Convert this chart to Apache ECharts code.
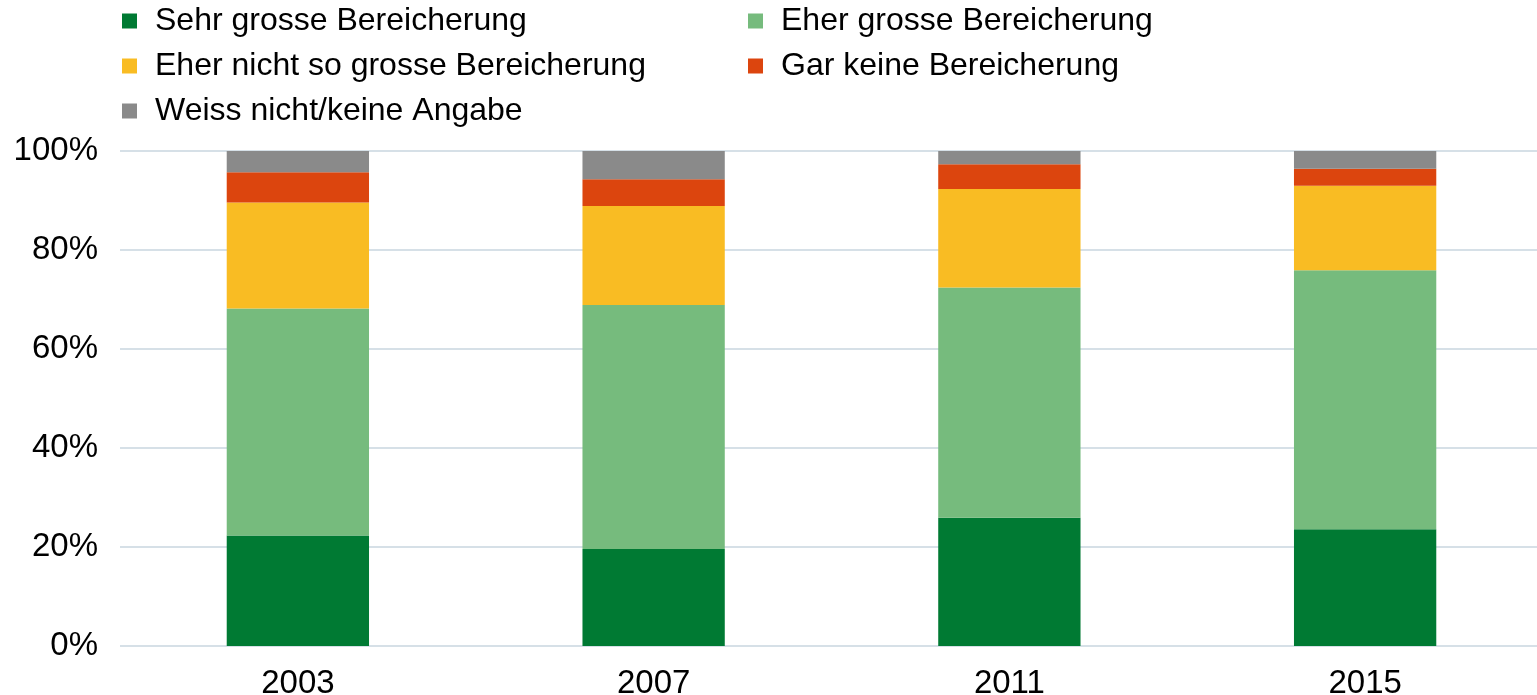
<!DOCTYPE html>
<html>
<head>
<meta charset="utf-8">
<script src="https://cdn.jsdelivr.net/npm/echarts@6/dist/echarts.min.js"></script>
<style>
  html, body { margin: 0; padding: 0; background: #fff; overflow: hidden; }
  #chart { width: 1537px; height: 695px; }
</style>
</head>
<body>
<div id="chart"></div>
<script>
// Jahre und Anteile (in %)
const years = ["2003", "2007", "2011", "2015"];
const sehrGross = [22.3, 19.6, 25.9, 23.6];
const eherGross = [45.9, 49.3, 46.5, 52.3];
const eherNichtSoGross = [21.4, 20.0, 19.9, 17.1];
const garKeine = [6.1, 5.4, 5.0, 3.4];
const weissNicht = [4.3, 5.7, 2.7, 3.6];
const yTicks = [0, 20, 40, 60, 80, 100];

const chart = echarts.init(document.getElementById("chart"));

const font = "Liberation Sans, Arial, sans-serif";
const legendText = {
  fontFamily: font,
  fontSize: 32,
  color: "#000",
  lineHeight: 32,
  padding: [0, 0, 0, 13],
};

function bar(name, data, color) {
  return {
    name: name,
    type: "bar",
    stack: "total",
    barWidth: "40%",
    data: data,
    itemStyle: { color: color },
  };
}

chart.setOption({
  animation: false,
  legend: [
    {
      orient: "vertical",
      left: 122,
      top: 5,
      padding: 0,
      itemGap: 13,
      itemWidth: 15,
      itemHeight: 15,
      icon: "rect",
      textStyle: legendText,
      data: ["Sehr grosse Bereicherung", "Eher nicht so grosse Bereicherung", "Weiss nicht/keine Angabe"],
    },
    {
      orient: "vertical",
      left: 748,
      top: 5,
      padding: 0,
      itemGap: 13,
      itemWidth: 15,
      itemHeight: 15,
      icon: "rect",
      textStyle: legendText,
      data: ["Eher grosse Bereicherung", "Gar keine Bereicherung"],
    },
  ],
  grid: {
    left: 120,
    width: 1423,
    top: 151,
    height: 495,
    containLabel: false,
    outerBoundsMode: "none",
  },
  xAxis: {
    type: "category",
    data: years,
    axisLine: { show: false },
    axisTick: { show: false },
    axisLabel: { fontFamily: font, fontSize: 33, color: "#000", margin: 21 },
  },
  yAxis: {
    type: "value",
    min: yTicks[0],
    max: yTicks[yTicks.length - 1],
    interval: 20,
    axisLine: { show: false },
    axisTick: { show: false },
    splitLine: { lineStyle: { color: "#c8d6df", width: 1.5 } },
    axisLabel: {
      fontFamily: font,
      fontSize: 33,
      color: "#000",
      margin: 22,
      formatter: (v) => v + "%",
    },
  },
  series: [
    bar("Sehr grosse Bereicherung", sehrGross, "#007a33"),
    bar("Eher grosse Bereicherung", eherGross, "#76bb7d"),
    bar("Eher nicht so grosse Bereicherung", eherNichtSoGross, "#f9bc23"),
    bar("Gar keine Bereicherung", garKeine, "#dc450e"),
    bar("Weiss nicht/keine Angabe", weissNicht, "#8a8a8a"),
  ],
});
</script>
</body>
</html>
